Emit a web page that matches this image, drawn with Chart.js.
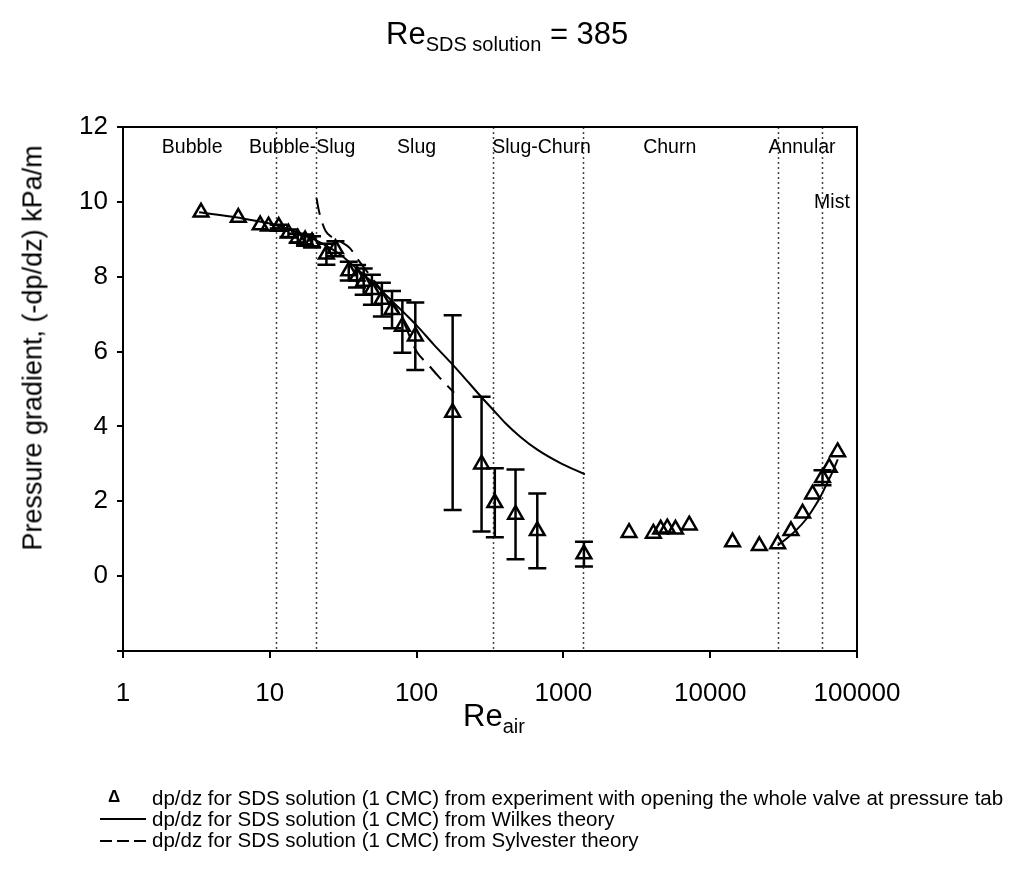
<!DOCTYPE html>
<html>
<head>
<meta charset="utf-8">
<script src="https://cdn.jsdelivr.net/npm/chart.js@4.4.1/dist/chart.umd.min.js"></script>
<style>
  body { margin: 0; background: #fff; font-family: "Liberation Sans", Arial, sans-serif; color: #000; }
  #wrap { position: relative; width: 1019px; height: 869px; overflow: hidden; }
  #chart { position: absolute; left: 0; top: 0; }
  .abs { position: absolute; white-space: nowrap; }
  .title { font-size: 31px; }
  .title sub, .xtitle sub { font-size: 20px; vertical-align: -0.35em; line-height: 0; }
  .ytitle { font-size: 27px; transform: translate(-50%, -50%) rotate(-90deg); }
  .leg { font-size: 20.5px; line-height: 22px; }
  .legline { position: absolute; height: 2px; width: 46px; background: #000; }
  .legdash { background: repeating-linear-gradient(to right, #000 0 12px, transparent 12px 17px); }
</style>
</head>
<body>
<div id="wrap">
  <canvas id="chart" width="1019" height="869"></canvas>
  <div class="abs title" style="left:386px; top:16px;">Re<sub>SDS solution</sub> = 385</div>
  <div class="abs ytitle" style="left:33px; top:348px;">Pressure gradient, (-dp/dz) kPa/m</div>
  <div class="abs title xtitle" style="left:463px; top:698px;">Re<sub>air</sub></div>

  <div class="abs leg" style="left:108px; top:786px; font-size:17px; font-weight:bold;">&#916;</div>
  <div class="abs leg" style="left:152px; top:787px;">dp/dz for SDS solution (1 CMC) from experiment with opening the whole valve at pressure tab</div>
  <div class="legline" style="left:100px; top:818px;"></div>
  <div class="abs leg" style="left:152px; top:808px;">dp/dz for SDS solution (1 CMC) from Wilkes theory</div>
  <div class="legline legdash" style="left:100px; top:840px;"></div>
  <div class="abs leg" style="left:152px; top:829px;">dp/dz for SDS solution (1 CMC) from Sylvester theory</div>
</div>
<script>
// experiment points (Re_air, -dp/dz in kPa/m, half height of the error bar)
const expRe  = [3.4, 6.1, 8.6, 9.8, 11.5, 13.4, 15.5, 17.4, 19.4, 24.3, 28, 34.5, 39.3, 43.6, 49.6, 58, 68, 80, 98,
                176, 277, 341, 472, 664, 1380,
                2800, 4100, 4600, 5100, 5800, 7200, 14200, 21600, 28800, 35500, 42600, 49800, 58200, 64700, 73800];
const expDp  = [9.72, 9.58, 9.38, 9.35, 9.34, 9.16, 9.03, 8.98, 8.93, 8.6, 8.75, 8.15, 8.01, 7.87, 7.65, 7.39, 7.12, 6.67, 6.41,
                4.37, 2.99, 1.96, 1.65, 1.21, 0.59,
                1.16, 1.14, 1.25, 1.28, 1.25, 1.36, 0.91, 0.81, 0.86, 1.21, 1.68, 2.19, 2.63, 2.9, 3.32];
const expErr = [0, 0, 0, 0, 0.05, 0.1, 0.12, 0.15, 0.15, 0.28, 0.2, 0.25, 0.3, 0.35, 0.4, 0.45, 0.5, 0.7, 0.9,
                2.6, 1.8, 0.92, 1.2, 1.0, 0.33,
                0, 0, 0, 0, 0, 0, 0, 0, 0, 0, 0, 0, 0.2, 0, 0];

// Wilkes theory, two branches
const wilkesRe  = [3.3, 6, 10, 15, 20, 25, 30, 40, 50, 60, 70, 85, 100, 130, 176, 230, 277, 340, 400, 510, 664, 955, 1400];
const wilkesDp  = [9.72, 9.58, 9.42, 9.2, 9.0, 8.8, 8.6, 8.18, 7.85, 7.56, 7.3, 6.98, 6.7, 6.2, 5.65, 5.14, 4.78, 4.4, 4.1, 3.72, 3.38, 3.02, 2.72];
const wilkesRe2 = [28800, 33000, 39000, 45000, 50000, 56000, 62000, 68000, 74000];
const wilkesDp2 = [0.82, 1.0, 1.25, 1.52, 1.78, 2.1, 2.45, 2.78, 3.12];

// Sylvester theory
const sylvRe = [20.8, 21.5, 22.5, 24, 26, 30, 35, 40, 50, 60, 80, 100, 120, 140, 180];
const sylvDp = [10.1, 9.8, 9.5, 9.22, 9.08, 8.95, 8.77, 8.45, 7.95, 7.55, 6.85, 6.0, 5.65, 5.35, 4.9];

// flow regime boundaries and names
const regimeBounds  = [11, 20.5, 330, 1360, 28900, 57600];
const regimeNames   = ['Bubble', 'Bubble-Slug', 'Slug', 'Slug-Churn', 'Churn', 'Annular', 'Mist'];
const regimeLabelRe = [2.96, 16.6, 100, 710, 5300, 42200, 67500];
const regimeLabelDp = [11.44, 11.44, 11.44, 11.44, 11.44, 11.44, 9.98];

const xTicks = [1, 10, 100, 1000, 10000, 100000];
const yTicks = [-2, 0, 2, 4, 6, 8, 10, 12];

const pts = (xs, ys) => xs.map((x, i) => ({ x: x, y: ys[i] }));

const wilkesData = pts(wilkesRe, wilkesDp).concat([{ x: 5000, y: null }], pts(wilkesRe2, wilkesDp2));

const extras = {
    id: 'extras',
    beforeDatasetsDraw(chart) {
        const { ctx, chartArea: a, scales: { x, y } } = chart;
        ctx.save();
        ctx.strokeStyle = '#444';
        ctx.lineWidth = 1.5;
        ctx.setLineDash([2, 3]);
        regimeBounds.forEach(v => {
            const px = Math.round(x.getPixelForValue(v)) + 0.5;
            ctx.beginPath();
            ctx.moveTo(px, a.top);
            ctx.lineTo(px, a.bottom);
            ctx.stroke();
        });
        ctx.setLineDash([]);
        // region names
        ctx.fillStyle = '#000';
        ctx.font = '19.5px "Liberation Sans", Arial, sans-serif';
        ctx.textAlign = 'center';
        ctx.textBaseline = 'middle';
        regimeNames.forEach((n, i) => {
            ctx.fillText(n, x.getPixelForValue(regimeLabelRe[i]), y.getPixelForValue(regimeLabelDp[i]));
        });
        ctx.restore();
    },
    afterDatasetsDraw(chart) {
        const { ctx, chartArea: a, scales: { x, y } } = chart;
        ctx.save();
        ctx.strokeStyle = '#000';
        ctx.lineWidth = 2.5;
        expRe.forEach((re, i) => {
            const e = expErr[i];
            if (!e) return;
            const px = x.getPixelForValue(re);
            const top = y.getPixelForValue(expDp[i] + e);
            const bot = y.getPixelForValue(expDp[i] - e);
            ctx.beginPath();
            ctx.moveTo(px, top); ctx.lineTo(px, bot);
            ctx.moveTo(px - 9, top); ctx.lineTo(px + 9, top);
            ctx.moveTo(px - 9, bot); ctx.lineTo(px + 9, bot);
            ctx.stroke();
        });
        // frame
        ctx.lineWidth = 2;
        ctx.strokeRect(a.left, a.top, a.right - a.left, a.bottom - a.top);
        ctx.restore();
    }
};

new Chart(document.getElementById('chart'), {
    type: 'scatter',
    data: {
        datasets: [{
            label: 'experiment',
            data: pts(expRe, expDp),
            pointStyle: 'triangle',
            pointRadius: 8.5,
            pointBorderWidth: 2.5,
            pointBorderColor: '#000',
            pointBackgroundColor: 'rgba(255,255,255,0)',
            showLine: false
        }, {
            label: 'Wilkes',
            data: wilkesData,
            showLine: true,
            spanGaps: false,
            borderColor: '#000',
            borderWidth: 2,
            pointRadius: 0,
            cubicInterpolationMode: 'monotone'
        }, {
            label: 'Sylvester',
            data: pts(sylvRe, sylvDp),
            showLine: true,
            borderColor: '#000',
            borderWidth: 2,
            borderDash: [17, 9],
            pointRadius: 0,
            cubicInterpolationMode: 'monotone'
        }]
    },
    options: {
        responsive: false,
        devicePixelRatio: 1,
        animation: false,
        layout: { padding: { left: 0, right: 162, top: 127, bottom: 158 } },
        plugins: { legend: { display: false }, tooltip: { enabled: false } },
        scales: {
            x: {
                type: 'logarithmic',
                min: 1,
                max: 100000,
                afterBuildTicks: s => { s.ticks = xTicks.map(v => ({ value: v })); },
                afterFit: s => { s.height = 60; },
                ticks: {
                    autoSkip: false,
                    maxRotation: 0,
                    padding: 20,
                    color: '#000',
                    font: { size: 26, family: '"Liberation Sans", Arial, sans-serif' },
                    callback: v => String(v)
                },
                grid: { drawOnChartArea: false, drawTicks: true, tickLength: 7, color: '#000', lineWidth: 2 },
                border: { color: '#000', width: 2 }
            },
            y: {
                min: -2,
                max: 12,
                afterBuildTicks: s => { s.ticks = yTicks.map(v => ({ value: v })); },
                afterFit: s => { s.width = 123; },
                ticks: {
                    padding: 9,
                    color: '#000',
                    font: { size: 26, family: '"Liberation Sans", Arial, sans-serif' },
                    callback: v => (v === -2 ? '' : String(v))
                },
                grid: { drawOnChartArea: false, drawTicks: true, tickLength: 6, color: '#000', lineWidth: 2 },
                border: { color: '#000', width: 2 }
            }
        }
    },
    plugins: [extras]
});
</script>
</body>
</html>
